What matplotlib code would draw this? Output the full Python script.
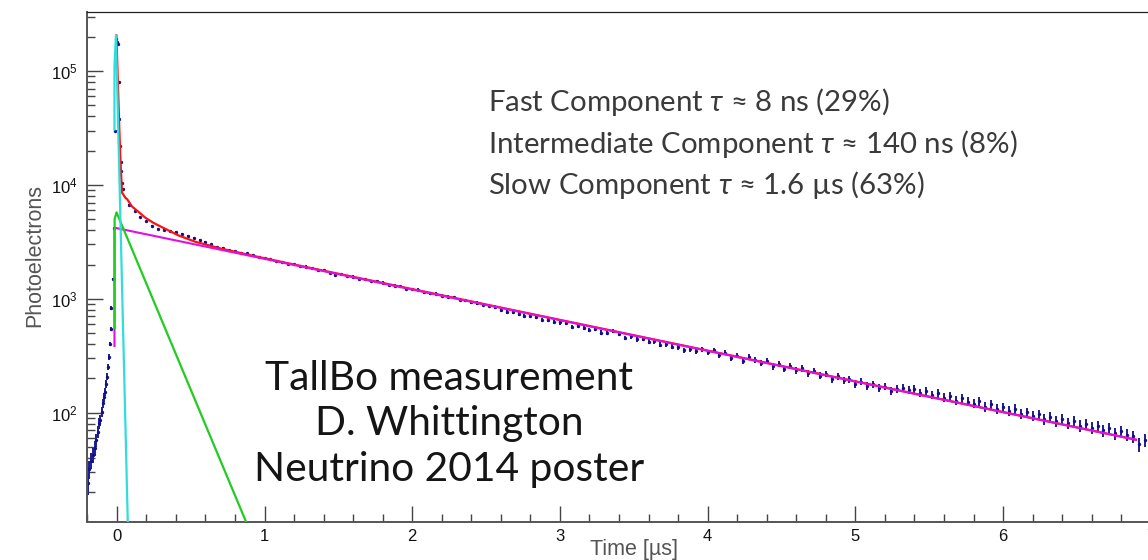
import numpy as np
import matplotlib
matplotlib.use('Agg')
import matplotlib.pyplot as plt
from matplotlib.ticker import MultipleLocator, LogLocator, NullFormatter

plt.rcParams['font.family'] = ['Liberation Sans', 'DejaVu Sans']
plt.rcParams['mathtext.fontset'] = 'custom'
plt.rcParams['mathtext.it'] = 'Lato:italic'
plt.rcParams['mathtext.rm'] = 'Lato'

# scintillation time profile, photoelectrons per bin
t_rise = [-0.195, -0.186, -0.173, -0.159, -0.150, -0.139, -0.130, -0.123, -0.114, -0.100,
          -0.096, -0.089, -0.083, -0.073, -0.066, -0.060, -0.056, -0.049, -0.042, -0.037,
          -0.026, -0.018, -0.010, -0.004, 0.004, 0.008, 0.012, 0.017, 0.022, 0.026,
          0.030, 0.035]
pe_rise = [24, 32, 38, 43, 49, 58, 68, 81, 86, 102,
           121, 137, 153, 179, 207, 251, 311, 402, 542, 828,
           1490, 4200, 30000, 190000, 180000, 171000, 80000, 38000, 22000, 16000,
           13200, 10400]

t_tail = np.round(np.arange(1, 176) * 0.04, 2)
pe_tail = [9200, 6700, 5850, 5250, 4780, 4400, 4120, 4050, 3950, 3850,
           3700, 3560, 3440, 3290, 3130, 3000, 2870, 2800, 2690, 2640,
           2540, 2500, 2420, 2340, 2290, 2230, 2140, 2120, 2030, 2010,
           1930, 1920, 1850, 1790, 1780, 1700, 1630, 1650, 1590, 1570,
           1500, 1490, 1430, 1420, 1390, 1320, 1300, 1290, 1230, 1220,
           1200, 1140, 1120, 1110, 1060, 1040, 1030, 980, 975, 930,
           920, 890, 870, 850, 800, 770, 760, 740, 705, 700,
           690, 650, 655, 630, 620, 610, 570, 575, 560, 535,
           545, 505, 500, 520, 490, 455, 470, 440, 445, 420,
           425, 395, 400, 380, 378, 355, 360, 350, 362, 340,
           355, 320, 338, 300, 318, 285, 310, 290, 272, 285,
           255, 270, 243, 256, 235, 245, 222, 232, 212, 220,
           198, 210, 192, 196, 180, 188, 172, 178, 165, 170,
           156, 163, 166, 158, 162, 150, 156, 143, 148, 136,
           140, 128, 134, 125, 120, 126, 113, 119, 108, 112,
           104, 108, 98, 101, 94, 97, 88, 92, 85, 88,
           81, 84, 77, 80, 74, 76, 70, 73, 66, 69,
           64, 62, 53, 58, 52]

# fit curves (vertices)
fast_t = [-0.016, -0.016, -0.006, 0.074]
fast_pe = [30600, 110000, 205000, 11]
inter_t = [-0.015, -0.015, -0.002, 0.92]
inter_pe = [556, 5000, 5740, 8.0]
slow_t = [-0.016, -0.016, 6.9]
slow_pe = [386, 4210, 58]
total_t = [-0.003, 0.017, 0.024, 0.035, 0.058, 0.07, 0.103, 0.15, 0.193, 0.25,
           0.306, 0.418, 0.531, 0.7, 0.9, 1.2, 6.9]
total_pe = [205000, 30600, 16700, 8550, 7700, 7480, 6450, 5750, 5150, 4625,
            4250, 3600, 3170, 2770, 2420, 2000, 58]

W, H = 1148, 560
fig = plt.figure(figsize=(W / 100, H / 100), dpi=100)
x0, x1, y0, y1 = 87.3, 1180.3, 12.3, 521.7
ax = fig.add_axes([x0 / W, 1 - y1 / H, (x1 - x0) / W, (y1 - y0) / H])

t_all = np.concatenate([t_rise, t_tail])
pe_all = np.concatenate([pe_rise, pe_tail]).astype(float)
ax.errorbar(t_all, pe_all, yerr=np.sqrt(pe_all), fmt='.', ms=2.8, color='#10108a',
            ecolor='#1c1c90', elinewidth=1.4, capsize=0, zorder=2)

ax.plot(total_t, total_pe, color='#ff1010', lw=1.6, zorder=3)
ax.plot(slow_t, slow_pe, color='#e010e0', lw=1.5, zorder=4)
ax.plot(inter_t, inter_pe, color='#22cc22', lw=1.6, zorder=5)
ax.plot(fast_t, fast_pe, color='#30dcdc', lw=1.6, zorder=6)

ax.set_yscale('log')
ax.set_xlim(-0.2, 7.2)
ax.set_ylim(11.07, 3.27e5)
ax.xaxis.set_major_locator(MultipleLocator(1))
ax.xaxis.set_minor_locator(MultipleLocator(0.2))
ax.yaxis.set_major_locator(LogLocator(base=10))
ax.yaxis.set_minor_locator(LogLocator(base=10, subs=np.arange(2, 10)))
ax.yaxis.set_minor_formatter(NullFormatter())

ax.tick_params(which='both', direction='in', color='#444444', labelcolor='#111111',
               labelsize=12, width=1.0)
ax.tick_params(which='major', length=11.5)
ax.tick_params(which='minor', length=5.8)
ax.tick_params(axis='x', pad=5)
ax.tick_params(axis='y', pad=7)
for side in ['top', 'right']:
    ax.spines[side].set_color('#222222')
    ax.spines[side].set_linewidth(0.9)
for side in ['left', 'bottom']:
    ax.spines[side].set_color('#555555')
    ax.spines[side].set_linewidth(1.4)

fig.text(35 / W, 1 - 256 / H, 'Photoelectrons', rotation=90, ha='center', va='center',
         fontsize=15.5, color='#555555')
fig.text(634 / W, 1 - 549 / H, 'Time [µs]', ha='center', va='center',
         fontsize=15.5, color='#555555')

lines = [r'Fast Component $\tau$ ≈ 8 ns (29%)',
         r'Intermediate Component $\tau$ ≈ 140 ns (8%)',
         r'Slow Component $\tau$ ≈ 1.6 µs (63%)']
for i, s in enumerate(lines):
    fig.text(488 / W, 1 - (102 + 41.5 * i) / H, s, ha='left', va='center',
             fontsize=21.2, color='#3a3a3a', family=['Lato', 'DejaVu Sans'])

credit = ['TallBo measurement', 'D. Whittington', 'Neutrino 2014 poster']
for i, s in enumerate(credit):
    fig.text(449 / W, 1 - (378 + 45.5 * i) / H, s, ha='center', va='center',
             fontsize=29.3, color='#151515', family=['Lato', 'DejaVu Sans'])

plt.savefig('out.png', dpi=100)
